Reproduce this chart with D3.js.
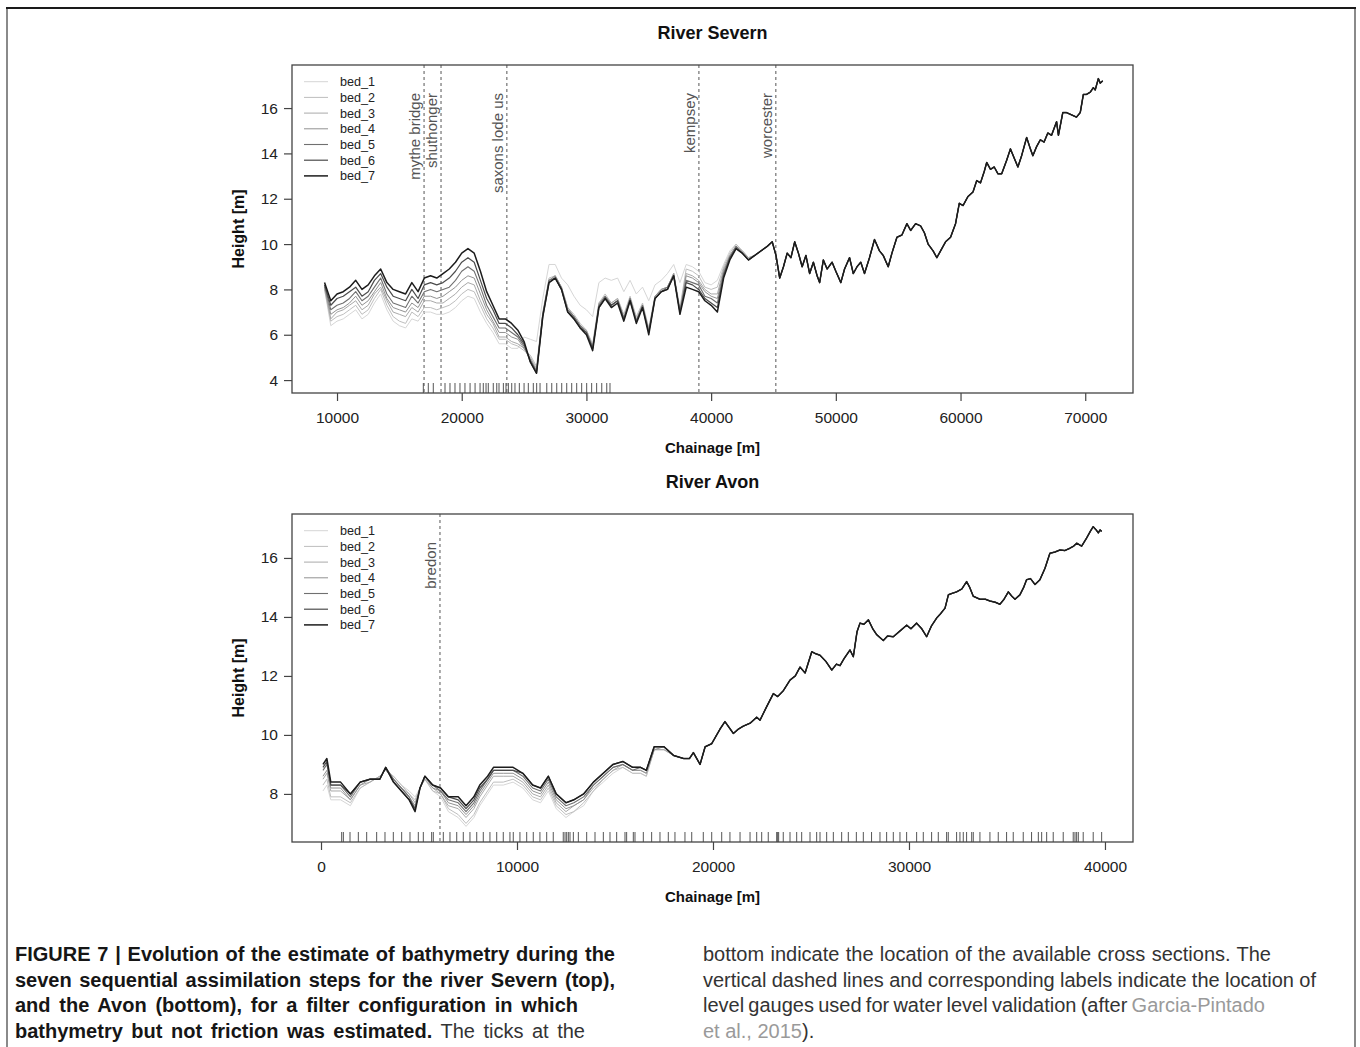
<!DOCTYPE html>
<html>
<head>
<meta charset="utf-8">
<script src="https://cdn.jsdelivr.net/npm/d3@7/dist/d3.min.js"></script>
<style>
  html, body { margin: 0; padding: 0; background: #fff; }
  svg { display: block; font-family: "Liberation Sans", Arial, Helvetica, sans-serif; }
</style>
</head>
<body>
<svg id="chart" width="1360" height="1047"></svg>
<script>
// ---------------- DATA ----------------
const bedNames = ["bed_1", "bed_2", "bed_3", "bed_4", "bed_5", "bed_6", "bed_7"];
const bedColors = ["#d6d6d6", "#bebebe", "#a9a9a9", "#929292", "#707070", "#4c4c4c", "#1c1c1c"];

// River Severn: chainage where the seven estimates differ
const severnHeadChainage = [9000, 9500, 10000, 10500, 11000, 11500, 12000, 12500, 13000, 13500,
  14000, 14500, 15000, 15500, 16000, 16500, 17000, 17500, 18000, 18500,
  19000, 19500, 20000, 20500, 21000, 21500, 22000, 22500, 23000, 23500,
  24000, 24500, 25000, 25500, 26000, 26500, 27000, 27500, 28000, 28500,
  29000, 29500, 30000, 30500, 31000, 31500, 32000, 32500, 33000, 33500,
  34000, 34500, 35000, 35500, 36000, 36500, 37000, 37500, 38000, 38500,
  39000, 39500, 40000, 40500, 41000, 41500, 42000, 42500, 43000, 43500];
const severnBed1 = [8.0, 6.4, 6.6, 6.7, 6.9, 7.1, 6.7, 6.9, 7.4, 7.8, 7.1, 6.6, 6.4, 6.3, 6.7, 6.6, 7.0, 7.0, 6.9, 6.9, 7.0, 7.2, 7.5, 7.7, 7.6, 7.0, 6.5, 6.1, 5.6, 5.6, 5.4, 5.4,
  5.9, 5.8, 5.7, 7.6, 9.1, 9.1, 8.5, 8.2, 7.7, 7.3, 7.1, 6.8, 8.3, 8.5, 8.4, 8.5, 7.9, 8.4, 7.8, 8.1, 7.5, 8.2, 8.4, 8.7, 9.1, 8.3,
  9.1, 9.0, 8.8, 8.3, 8.2, 8.4, 9.1, 9.7, 10.0, 9.7, 9.4, 9.5];
const severnBed2 = [8.0, 6.6, 6.8, 6.9, 7.1, 7.3, 6.9, 7.1, 7.6, 8.0, 7.3, 6.8, 6.6, 6.5, 7.0, 6.8, 7.2, 7.2, 7.1, 7.2, 7.3, 7.5, 7.8, 8.0, 7.9, 7.3, 6.7, 6.3, 5.8, 5.8, 5.6, 5.5,
  5.3, 5.1, 4.6, 7.0, 8.5, 8.6, 8.1, 7.2, 6.9, 6.5, 6.2, 5.6, 7.4, 7.8, 7.4, 7.6, 6.9, 7.7, 6.8, 7.4, 6.3, 7.7, 8.0, 8.1, 8.7, 7.2,
  8.9, 8.8, 8.6, 8.1, 8.0, 8.1, 9.0, 9.6, 10.0, 9.7, 9.4, 9.5];
const severnBed3 = [8.1, 6.7, 7.0, 7.1, 7.3, 7.5, 7.1, 7.3, 7.8, 8.1, 7.5, 7.0, 6.9, 6.8, 7.2, 7.0, 7.5, 7.5, 7.4, 7.4, 7.6, 7.8, 8.1, 8.3, 8.2, 7.5, 6.9, 6.5, 5.9, 5.9, 5.7, 5.6,
  5.4, 5.0, 4.5, 6.9, 8.4, 8.6, 8.1, 7.2, 6.8, 6.4, 6.2, 5.5, 7.4, 7.7, 7.4, 7.6, 6.8, 7.6, 6.7, 7.3, 6.2, 7.7, 8.0, 8.1, 8.7, 7.1,
  8.7, 8.6, 8.4, 8.0, 7.8, 7.8, 8.9, 9.5, 9.9, 9.7, 9.4, 9.5];
const severnBed4 = [8.1, 6.9, 7.1, 7.2, 7.4, 7.7, 7.3, 7.5, 7.9, 8.3, 7.6, 7.2, 7.1, 7.0, 7.4, 7.2, 7.7, 7.7, 7.6, 7.7, 7.9, 8.1, 8.4, 8.6, 8.5, 7.8, 7.1, 6.6, 6.1, 6.1, 5.9, 5.8,
  5.4, 4.9, 4.4, 6.9, 8.4, 8.6, 8.1, 7.1, 6.8, 6.4, 6.1, 5.5, 7.3, 7.7, 7.3, 7.5, 6.7, 7.6, 6.6, 7.3, 6.2, 7.7, 8.0, 8.1, 8.7, 7.0,
  8.6, 8.5, 8.3, 7.9, 7.7, 7.6, 8.8, 9.5, 9.9, 9.6, 9.3, 9.5];
const severnBed5 = [8.2, 7.1, 7.3, 7.4, 7.6, 7.9, 7.5, 7.7, 8.1, 8.5, 7.8, 7.4, 7.3, 7.2, 7.7, 7.4, 7.9, 8.0, 7.9, 8.0, 8.1, 8.4, 8.8, 9.0, 8.8, 8.1, 7.3, 6.8, 6.3, 6.3, 6.1, 5.9,
  5.5, 4.9, 4.4, 6.9, 8.4, 8.5, 8.0, 7.1, 6.8, 6.4, 6.1, 5.4, 7.3, 7.7, 7.3, 7.5, 6.7, 7.6, 6.6, 7.3, 6.1, 7.6, 7.9, 8.1, 8.6, 7.0,
  8.4, 8.3, 8.2, 7.7, 7.6, 7.4, 8.7, 9.4, 9.9, 9.6, 9.3, 9.5];
const severnBed6 = [8.2, 7.3, 7.6, 7.7, 7.9, 8.1, 7.7, 7.9, 8.4, 8.7, 8.1, 7.7, 7.6, 7.5, 8.0, 7.6, 8.2, 8.3, 8.2, 8.3, 8.5, 8.8, 9.2, 9.4, 9.2, 8.4, 7.6, 7.1, 6.5, 6.5, 6.3, 6.0,
  5.6, 4.8, 4.3, 6.8, 8.3, 8.5, 8.0, 7.0, 6.7, 6.3, 6.1, 5.4, 7.2, 7.6, 7.3, 7.5, 6.7, 7.5, 6.6, 7.2, 6.1, 7.6, 7.9, 8.0, 8.6, 7.0,
  8.3, 8.2, 8.0, 7.6, 7.4, 7.2, 8.6, 9.4, 9.8, 9.6, 9.3, 9.5];
const severnBed7 = [8.3, 7.5, 7.8, 7.9, 8.1, 8.4, 8.0, 8.2, 8.6, 8.9, 8.3, 8.0, 7.9, 7.8, 8.3, 7.9, 8.5, 8.6, 8.5, 8.7, 8.9, 9.2, 9.6, 9.8, 9.6, 8.8, 7.9, 7.3, 6.7, 6.7, 6.5, 6.2,
  5.7, 4.8, 4.3, 6.8, 8.3, 8.5, 8.0, 7.0, 6.7, 6.3, 6.0, 5.3, 7.2, 7.6, 7.2, 7.4, 6.6, 7.5, 6.5, 7.2, 6.0, 7.6, 7.9, 8.0, 8.6, 6.9,
  8.1, 8.0, 7.9, 7.5, 7.3, 7.0, 8.5, 9.3, 9.8, 9.6, 9.3, 9.5];
// River Severn: downstream part where all seven estimates coincide
const severnTailChainage = [44000, 44500, 44900, 45200, 45500, 45800, 46100, 46400, 46700, 47000,
  47300, 47600, 47900, 48200, 48500, 48700, 49000, 49300, 49700, 50000,
  50400, 50700, 51100, 51400, 51700, 52000, 52300, 52700, 53100, 53500,
  53800, 54200, 54500, 54900, 55300, 55700, 56000, 56400, 56800, 57100,
  57400, 57800, 58100, 58400, 58800, 59200, 59600, 59900, 60200, 60600,
  61000, 61300, 61600, 61900, 62100, 62400, 62700, 63000, 63300, 63700,
  64000, 64300, 64600, 64900, 65300, 65600, 65800, 66100, 66400, 66700,
  67000, 67300, 67700, 67850, 68200, 68500, 68900, 69300, 69600, 69850,
  70100, 70400, 70650, 70800, 71050, 71200, 71400];
const severnTailHeight = [9.7, 9.9, 10.1, 9.5, 8.5, 9.0, 9.6, 9.4, 10.1, 9.6,
  9.0, 9.5, 8.7, 9.2, 8.6, 8.3, 9.3, 8.9, 9.2, 8.8,
  8.3, 8.9, 9.4, 8.7, 9.0, 9.2, 8.7, 9.4, 10.2, 9.7,
  9.5, 9.0, 9.6, 10.3, 10.4, 10.9, 10.6, 10.9, 10.8, 10.5,
  10.0, 9.7, 9.4, 9.7, 10.1, 10.3, 10.9, 11.8, 11.7, 12.1,
  12.3, 12.8, 12.7, 13.2, 13.6, 13.3, 13.4, 13.1, 13.1, 13.7,
  14.2, 13.8, 13.4, 13.9, 14.7, 14.2, 13.9, 14.3, 14.6, 14.5,
  14.9, 14.8, 15.4, 14.8, 15.8, 15.8, 15.7, 15.6, 15.8, 16.6,
  16.6, 16.7, 16.9, 16.8, 17.3, 17.1, 17.2];
const severnGauges = ["mythe bridge", "shuthonger", "saxons lode us", "kempsey", "worcester"];
const severnGaugeChainage = [16980, 18340, 23620, 39020, 45190];
const severnCrossSections = [16920, 17320, 17720, 18660, 19060, 19460, 19860, 20260, 20670, 21070,
  21470, 21730, 21950, 22130, 22530, 22810, 22990, 23340, 23550, 23740,
  24010, 24270, 24620, 25000, 25340, 25740, 26010, 26280, 26820, 27220,
  27620, 28020, 28420, 28820, 29220, 29620, 30020, 30420, 30820, 31230,
  31630, 31890];
const severnXTicks = [10000, 20000, 30000, 40000, 50000, 60000, 70000];
const severnYTicks = [4, 6, 8, 10, 12, 14, 16];

// River Avon
const avonHeadChainage = [100, 300, 500, 1000, 1500, 2000, 2500, 3000, 3300, 3700,
  4100, 4500, 4800, 5050, 5300, 5700, 6100, 6500, 7000, 7400,
  7800, 8100, 8500, 8800, 9300, 9800, 10300, 10800, 11200, 11600,
  12000, 12500, 12900, 13400, 13900, 14400, 14900, 15400, 15900, 16300,
  16600, 17000, 17500, 18000];
const avonBed1 = [8.1, 8.3, 7.8, 7.8, 7.6, 8.2, 8.4, 8.6, 8.8, 8.6, 8.3, 8.1, 7.9, 8.2, 8.5, 8.1, 7.9, 7.4, 7.2, 6.9, 7.2, 7.6, 8.0, 8.3, 8.3, 8.4, 8.2, 7.8, 7.7, 8.1, 7.5, 7.2, 7.4, 7.6, 8.1, 8.4, 8.7, 8.9, 8.7, 8.7, 8.6, 9.5, 9.5, 9.3];
const avonBed2 = [8.3, 8.5, 7.9, 7.9, 7.7, 8.2, 8.4, 8.6, 8.8, 8.6, 8.3, 8.0, 7.8, 8.2, 8.5, 8.1, 8.0, 7.5, 7.3, 7.0, 7.3, 7.7, 8.1, 8.4, 8.4, 8.5, 8.3, 7.9, 7.8, 8.2, 7.6, 7.3, 7.4, 7.7, 8.1, 8.5, 8.8, 8.9, 8.7, 8.7, 8.6, 9.5, 9.5, 9.3];
const avonBed3 = [8.5, 8.7, 8.1, 8.1, 7.8, 8.3, 8.4, 8.6, 8.8, 8.5, 8.2, 8.0, 7.7, 8.2, 8.5, 8.2, 8.0, 7.6, 7.5, 7.2, 7.5, 7.9, 8.3, 8.6, 8.6, 8.6, 8.4, 8.0, 7.9, 8.3, 7.7, 7.4, 7.6, 7.8, 8.2, 8.5, 8.8, 9.0, 8.8, 8.8, 8.7, 9.5, 9.5, 9.3];
const avonBed4 = [8.6, 8.8, 8.2, 8.2, 7.8, 8.3, 8.5, 8.5, 8.9, 8.5, 8.2, 7.9, 7.6, 8.2, 8.6, 8.2, 8.1, 7.7, 7.6, 7.3, 7.6, 8.0, 8.4, 8.7, 8.7, 8.7, 8.5, 8.1, 8.0, 8.4, 7.8, 7.5, 7.6, 7.8, 8.3, 8.6, 8.9, 9.0, 8.8, 8.8, 8.7, 9.5, 9.6, 9.3];
const avonBed5 = [8.8, 9.0, 8.3, 8.3, 7.9, 8.4, 8.5, 8.5, 8.9, 8.5, 8.2, 7.9, 7.5, 8.2, 8.6, 8.3, 8.1, 7.8, 7.7, 7.4, 7.7, 8.1, 8.5, 8.8, 8.8, 8.8, 8.6, 8.2, 8.1, 8.5, 7.9, 7.6, 7.7, 7.9, 8.3, 8.6, 8.9, 9.0, 8.8, 8.9, 8.8, 9.6, 9.6, 9.3];
const avonBed6 = [8.9, 9.1, 8.3, 8.3, 8.0, 8.4, 8.5, 8.5, 8.9, 8.4, 8.1, 7.8, 7.5, 8.2, 8.6, 8.3, 8.2, 7.9, 7.8, 7.5, 7.8, 8.2, 8.5, 8.8, 8.8, 8.8, 8.7, 8.3, 8.2, 8.6, 8.0, 7.7, 7.8, 8.0, 8.4, 8.7, 9.0, 9.1, 8.9, 8.9, 8.8, 9.6, 9.6, 9.3];
const avonBed7 = [9.0, 9.2, 8.4, 8.4, 8.0, 8.4, 8.5, 8.5, 8.9, 8.4, 8.1, 7.8, 7.4, 8.2, 8.6, 8.3, 8.2, 7.9, 7.9, 7.6, 7.9, 8.3, 8.6, 8.9, 8.9, 8.9, 8.7, 8.3, 8.2, 8.6, 8.0, 7.7, 7.8, 8.0, 8.4, 8.7, 9.0, 9.1, 8.9, 8.9, 8.8, 9.6, 9.6, 9.3];
const avonTailChainage = [18500, 18800, 19000, 19340, 19600, 19930, 20360, 20610, 21040, 21300,
  21550, 21900, 22230, 22400, 22740, 23080, 23300, 23590, 23930, 24200,
  24440, 24700, 25040, 25250, 25460, 25750, 26060, 26300, 26480, 26700,
  26990, 27160, 27350, 27500, 27700, 27930, 28150, 28350, 28690, 28900,
  29200, 29500, 29880, 30100, 30390, 30650, 30900, 31150, 31410, 31600,
  31840, 32010, 32200, 32430, 32700, 32940, 33100, 33280, 33620, 33900,
  34130, 34400, 34640, 34850, 35070, 35250, 35410, 35660, 35850, 36000,
  36200, 36430, 36680, 36940, 37190, 37450, 37700, 37950, 38210, 38400,
  38560, 38810, 39060, 39250, 39400, 39550, 39660, 39750, 39830];
const avonTailHeight = [9.2, 9.2, 9.4, 9.0, 9.6, 9.7, 10.2, 10.45, 10.05, 10.2,
  10.3, 10.4, 10.6, 10.5, 10.96, 11.4, 11.3, 11.5, 11.86, 12.0,
  12.3, 12.1, 12.82, 12.75, 12.7, 12.5, 12.2, 12.4, 12.35, 12.6,
  12.88, 12.65, 13.5, 13.79, 13.75, 13.9, 13.6, 13.4, 13.2, 13.35,
  13.33, 13.5, 13.72, 13.6, 13.79, 13.6, 13.33, 13.7, 13.96, 14.1,
  14.3, 14.75, 14.8, 14.85, 14.95, 15.2, 15.0, 14.7, 14.6, 14.6,
  14.54, 14.5, 14.43, 14.6, 14.85, 14.7, 14.6, 14.75, 15.0, 15.26,
  15.3, 15.1, 15.26, 15.65, 16.16, 16.2, 16.27, 16.25, 16.33, 16.4,
  16.5, 16.4, 16.67, 16.9, 17.06, 16.95, 16.85, 16.95, 16.9];
const avonGauges = ["bredon"];
const avonGaugeChainage = [6070];
const avonCrossSections = [1055, 1140, 1480, 1905, 2330, 2840, 3265, 3690, 4115, 4540,
  4965, 5220, 5645, 5730, 6240, 6580, 6925, 7260, 7600, 7945,
  8280, 8620, 8965, 9300, 9640, 9810, 10150, 10495, 10830, 11170,
  11515, 11850, 12360, 12450, 12535, 12620, 12705, 12875, 13130, 13555,
  13980, 14405, 14745, 15085, 15510, 15595, 15935, 16020, 16445, 16870,
  17295, 17720, 18060, 18570, 18915, 19505, 19935, 20445, 20865, 21380,
  21890, 22230, 22485, 22820, 23250, 23300, 23350, 23585, 23930, 24270,
  24525, 24950, 25290, 25460, 25800, 26140, 26565, 26905, 27315, 27670,
  28090, 28520, 28860, 29200, 29540, 29880, 30390, 30730, 31155, 31495,
  31920, 32005, 32430, 32600, 32770, 32940, 33200, 33280, 33620, 34130,
  34555, 34980, 35320, 35830, 36255, 36600, 36770, 37025, 37360, 37870,
  38380, 38470, 38555, 38640, 38890, 39400, 39830];
const avonXTicks = [0, 10000, 20000, 30000, 40000];
const avonYTicks = [8, 10, 12, 14, 16];

// Caption
const captionLeft = [
  {w: 600, segs: [{t: "FIGURE 7 | Evolution of the estimate of bathymetry during the", b: true}]},
  {w: 600, segs: [{t: "seven sequential assimilation steps for the river Severn (top),", b: true}]},
  {w: 563, segs: [{t: "and the Avon (bottom), for a filter configuration in which", b: true}]},
  {w: 570, segs: [{t: "bathymetry but not friction was estimated.", b: true}, {t: " The ticks at the"}]}
];
const captionRight = [
  {w: 568, segs: [{t: "bottom indicate the location of the available cross sections. The"}]},
  {w: 613, segs: [{t: "vertical dashed lines and corresponding labels indicate the location of"}]},
  {w: 562, segs: [{t: "level gauges used for water level validation (after "}, {t: "Garcia-Pintado", link: true}]},
  {w: null, segs: [{t: "et al., 2015", link: true}, {t: ")."}]}
];

// ---------------- DRAWING ----------------
const svg = d3.select("#chart");
svg.append("rect").attr("width", 1360).attr("height", 1047).attr("fill", "#fff");

// outer frame
svg.append("line").attr("x1", 7).attr("x2", 7).attr("y1", 8).attr("y2", 1047).attr("stroke", "#8a8a8a").attr("stroke-width", 2);
svg.append("line").attr("x1", 1355).attr("x2", 1355).attr("y1", 8).attr("y2", 1047).attr("stroke", "#8a8a8a").attr("stroke-width", 2);
svg.append("line").attr("x1", 6).attr("x2", 1356).attr("y1", 8).attr("y2", 8).attr("stroke", "#1a1a1a").attr("stroke-width", 2);

const L = 292, R = 1133;
const bedWidths = [1, 1, 1, 1, 1.1, 1.2, 1.5];

function drawPanel(cfg) {
  const g = svg.append("g");
  const x = d3.scaleLinear().domain(cfg.xDomain).range([L, R]);
  const y = d3.scaleLinear().domain(cfg.yDomain).range([cfg.bottom, cfg.top]);
  const line = d3.line().x(d => x(d[0])).y(d => y(d[1]));

  // dashed gauge lines
  cfg.gaugeX.forEach((c, i) => {
    g.append("line").attr("x1", x(c)).attr("x2", x(c)).attr("y1", cfg.top).attr("y2", cfg.bottom)
      .attr("stroke", "#555").attr("stroke-width", 1).attr("stroke-dasharray", "3,3");
    g.append("text").attr("transform", `translate(${x(c) - 4},${cfg.top + 28}) rotate(-90)`)
      .attr("text-anchor", "end").attr("font-size", 15).attr("fill", "#555").text(cfg.gauges[i]);
  });

  // rug of cross sections
  g.selectAll(null).data(cfg.rug).enter().append("line")
    .attr("x1", d => x(d)).attr("x2", d => x(d)).attr("y1", cfg.bottom).attr("y2", cfg.bottom - 10)
    .attr("stroke", "#555").attr("stroke-width", 1);

  // bed lines
  cfg.beds.forEach((vals, i) => {
    const pts = cfg.headX.map((c, j) => [c, vals[j]])
      .concat(cfg.tailX.map((c, j) => [c, cfg.tailY[j]]));
    g.append("path").attr("d", line(pts)).attr("fill", "none")
      .attr("stroke", bedColors[i]).attr("stroke-width", bedWidths[i]).attr("stroke-linejoin", "round");
  });

  // box
  g.append("rect").attr("x", L).attr("y", cfg.top).attr("width", R - L).attr("height", cfg.bottom - cfg.top)
    .attr("fill", "none").attr("stroke", "#444").attr("stroke-width", 1.3);

  // axes
  const xa = g.append("g").attr("transform", `translate(0,${cfg.bottom})`)
    .call(d3.axisBottom(x).tickValues(cfg.xTicks).tickSize(8).tickPadding(11).tickFormat(d3.format("d")));
  const ya = g.append("g").attr("transform", `translate(${L},0)`)
    .call(d3.axisLeft(y).tickValues(cfg.yTicks).tickSize(8).tickPadding(6).tickFormat(d3.format("d")));
  [xa, ya].forEach(a => {
    a.select(".domain").remove();
    a.selectAll(".tick line").attr("stroke", "#444").attr("stroke-width", 1.2);
    a.selectAll("text").attr("font-size", 15.5).attr("fill", "#222")
      .attr("font-family", "'Liberation Sans', Arial, Helvetica, sans-serif");
  });

  // legend
  bedNames.forEach((n, i) => {
    const ly = cfg.top + 16.7 + i * 15.7;
    g.append("line").attr("x1", 304).attr("x2", 328).attr("y1", ly).attr("y2", ly)
      .attr("stroke", bedColors[i]).attr("stroke-width", bedWidths[i]);
    g.append("text").attr("x", 340).attr("y", ly).attr("dy", "0.35em").attr("font-size", 12.6)
      .attr("fill", "#222").text(n);
  });

  // titles
  g.append("text").attr("x", (L + R) / 2).attr("y", cfg.top - 26).attr("text-anchor", "middle")
    .attr("font-size", 18).attr("font-weight", "bold").attr("fill", "#111").text(cfg.title);
  g.append("text").attr("x", (L + R) / 2).attr("y", cfg.bottom + 60).attr("text-anchor", "middle")
    .attr("font-size", 15).attr("font-weight", "bold").attr("fill", "#111").text("Chainage [m]");
  g.append("text").attr("transform", `translate(243.5,${(cfg.top + cfg.bottom) / 2}) rotate(-90)`)
    .attr("text-anchor", "middle").attr("font-size", 16).attr("font-weight", "bold").attr("fill", "#111")
    .text("Height [m]");
}

drawPanel({
  title: "River Severn", top: 65, bottom: 393,
  xDomain: [6390, 73830], yDomain: [3.43, 17.9],
  headX: severnHeadChainage,
  beds: [severnBed1, severnBed2, severnBed3, severnBed4, severnBed5, severnBed6, severnBed7],
  tailX: severnTailChainage, tailY: severnTailHeight,
  gauges: severnGauges, gaugeX: severnGaugeChainage, rug: severnCrossSections,
  xTicks: severnXTicks, yTicks: severnYTicks
});
drawPanel({
  title: "River Avon", top: 514, bottom: 842,
  xDomain: [-1480, 41430], yDomain: [6.37, 17.49],
  headX: avonHeadChainage,
  beds: [avonBed1, avonBed2, avonBed3, avonBed4, avonBed5, avonBed6, avonBed7],
  tailX: avonTailChainage, tailY: avonTailHeight,
  gauges: avonGauges, gaugeX: avonGaugeChainage, rug: avonCrossSections,
  xTicks: avonXTicks, yTicks: avonYTicks
});

// caption
const capBaselines = [961, 986.5, 1012, 1037.5];
function drawCaption(lines, x0) {
  lines.forEach((ln, i) => {
    const t = svg.append("text").attr("x", x0).attr("y", capBaselines[i]).attr("font-size", 20)
      .attr("xml:space", "preserve").style("white-space", "pre");
    ln.segs.forEach(s => {
      t.append("tspan").text(s.t)
        .attr("font-weight", s.b ? "bold" : "normal")
        .attr("fill", s.link ? "#9a9a9a" : (s.b ? "#161616" : "#333"));
    });
    if (ln.w) {
      const nat = t.node().getComputedTextLength();
      const full = ln.segs.map(s => s.t).join("");
      const spaces = (full.match(/ /g) || []).length;
      if (spaces > 0) t.style("word-spacing", ((ln.w - nat) / spaces) + "px");
    }
  });
}
drawCaption(captionLeft, 15);
drawCaption(captionRight, 703);
</script>
</body>
</html>
